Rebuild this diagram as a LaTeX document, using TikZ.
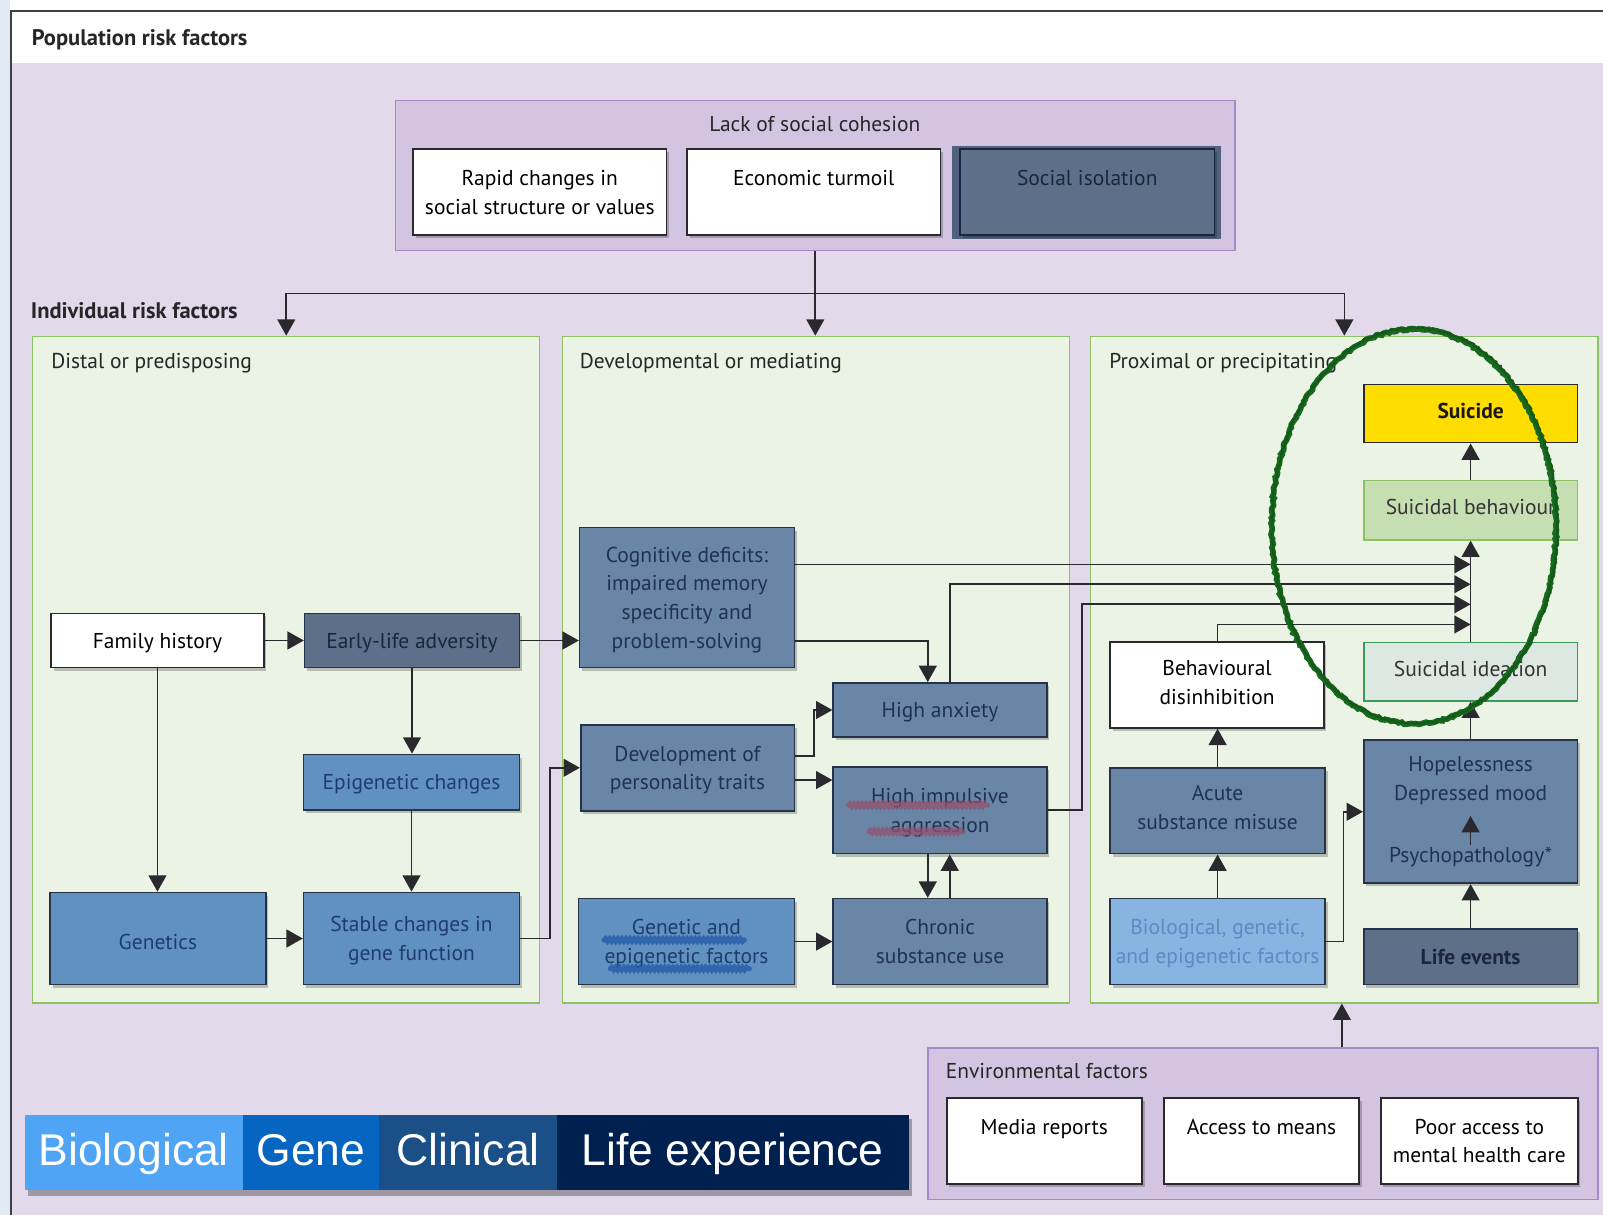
\documentclass[tikz,border=0pt]{standalone}
\usepackage{fontspec}
\setmainfont{PT Sans}
\newfontfamily\legendfont{Liberation Sans}
\usetikzlibrary{arrows.meta,calc,shadows,decorations.pathmorphing}

\definecolor{strip}{HTML}{E2EAF4}
\definecolor{lav}{HTML}{E2DAEB}
\definecolor{lackfill}{HTML}{D3C4E1}
\definecolor{lackline}{HTML}{A68AC6}
\definecolor{zonefill}{HTML}{EBF3E5}
\definecolor{zoneline}{HTML}{8CC264}
\definecolor{slate}{HTML}{5E6F89}
\definecolor{slateglow}{HTML}{52627E}
\definecolor{steel}{HTML}{6A86A7}
\definecolor{midblue}{HTML}{6191C1}
\definecolor{paleblue}{HTML}{87B4E0}
\definecolor{ink}{HTML}{2A2A2E}
\definecolor{boxedge}{HTML}{263248}
\definecolor{slatetext}{HTML}{1A2640}
\definecolor{steeltext}{HTML}{1F3350}
\definecolor{bluetext}{HTML}{1E3D6A}
\definecolor{paletext}{HTML}{5A8BC4}
\definecolor{sunny}{HTML}{FFDD00}
\definecolor{behavfill}{HTML}{C6DFB2}
\definecolor{ideafill}{HTML}{DDE8E2}
\definecolor{idealine}{HTML}{3A9A5A}
\definecolor{ringgreen}{HTML}{176A1E}
\definecolor{scribred}{HTML}{94506E}
\definecolor{scribblue}{HTML}{1F58A8}
\definecolor{legA}{HTML}{4FA4F5}
\definecolor{legB}{HTML}{0565C0}
\definecolor{legC}{HTML}{1A4F88}
\definecolor{legD}{HTML}{00214F}

\begin{document}
\begin{tikzpicture}[x=1pt,y=-1pt,
  font=\fontsize{21}{28}\selectfont,
  plainbox/.style={draw=boxedge, line width=1.6pt, inner sep=2pt, align=center, text depth=0pt},
  box/.style={plainbox,
    drop shadow={shadow xshift=2.5pt, shadow yshift=-3pt, fill=black, opacity=.22}},
  whitebox/.style={box, draw=ink, fill=white, text=black},
  slatebox/.style={box, fill=slate, text=slatetext},
  steelbox/.style={box, fill=steel, text=steeltext},
  bluebox/.style={box, fill=midblue, text=bluetext},
  zone/.style={draw=zoneline, fill=zonefill, line width=1.3pt, inner sep=0pt},
  group/.style={draw=lackline, fill=lackfill, line width=1.3pt, inner sep=0pt},
  heading/.style={anchor=west, inner sep=0pt, text=black!85},
  bighead/.style={heading, font=\bfseries\fontsize{22}{26}\selectfont},
  link/.style={draw=ink, line width=1.6pt},
  arr/.style={link, -{Triangle[length=16pt,width=17.5pt]}},
  scrib/.style={line width=5pt, opacity=.75, line cap=round, decorate,
    decoration={snake, segment length=4pt, amplitude=1.2pt}},
  ring/.style={draw=ringgreen, line width=5.5pt, decorate,
    decoration={random steps, segment length=2.5pt, amplitude=1pt}},
  legseg/.style={inner sep=0pt, minimum height=73.3pt, text=white,
    font=\legendfont\fontsize{43.5}{50}\selectfont, text height=31pt, text depth=6pt}
]
\useasboundingbox (0,0) rectangle (1568,1188);

% page, header band and frame
\fill[white] (0,0) rectangle (1568,1188);
\fill[strip] (0,0) rectangle (9.5,1188);
\fill[lav] (11,61.5) rectangle (1568,1188);
\draw[draw=black!75, line width=2pt] (11,1188) -- (11,10.5) -- (1568,10.5);
\node[bighead] (poptitle) at (31,39) {Population risk factors};

% lack of social cohesion
\node[group, minimum width=821pt, minimum height=147pt] (lack) at (797.5,171.5) {};
\node[inner sep=0pt, text=black!85] (lacktitle) at (797,121) {Lack of social cohesion};
\node[whitebox, minimum width=248pt, minimum height=84pt] (rapid) at (528,188) {Rapid changes in\\social structure or values};
\node[whitebox, minimum width=248pt, minimum height=84pt] (econ) at (796,188) {Economic turmoil\\\mbox{}};
\fill[slateglow] (931,143) rectangle (1194.5,234);
\node[slatebox, draw=slatetext, minimum width=249pt, minimum height=84pt] (isol) at (1063.5,188) {Social isolation\\\mbox{}};

% individual risk factors: three stages
\node[bighead] (indtitle) at (30,304) {Individual risk factors};
\node[zone, minimum width=496pt, minimum height=652pt] (distal) at (280,655) {};
\node[zone, minimum width=496pt, minimum height=652pt] (dev) at (798,655) {};
\node[zone, minimum width=496pt, minimum height=652pt] (prox) at (1315,655) {};
\node[heading] (distaltitle) at (50,355) {Distal or predisposing};
\node[heading] (devtitle) at (567,355) {Developmental or mediating};
\node[heading] (proxtitle) at (1085,355) {Proximal or precipitating};

\coordinate (split) at (797.5,287);
\draw[arr] (lack.south) -- (lack.south |- dev.north);
\draw[arr] (split) -| (distal.north);
\draw[arr] (split) -| (prox.north);

% distal or predisposing
\node[whitebox, minimum width=208pt, minimum height=53pt] (famhist) at (154,626.5) {Family history};
\node[slatebox, minimum width=210pt, minimum height=53pt] (early) at (403,626.5) {Early-life adversity};
\node[bluebox, minimum width=211pt, minimum height=54pt] (epi) at (402.5,765) {Epigenetic changes};
\node[bluebox, text height=21pt, minimum width=211pt, minimum height=90pt] (genetics) at (154.5,918) {Genetics};
\node[bluebox, minimum width=211pt, minimum height=90pt] (stable) at (402.5,918) {Stable changes in\\gene function};

% developmental or mediating
\node[steelbox, minimum width=210pt, minimum height=137pt] (cog) at (672,584.5) {Cognitive deficits:\\impaired memory\\specificity and\\problem-solving};
\node[steelbox, minimum width=209pt, minimum height=84pt] (devpers) at (672.5,751) {Development of\\personality traits};
\node[steelbox, minimum width=209pt, minimum height=53pt] (anx) at (919.5,694.5) {High anxiety};
\node[steelbox, minimum width=209pt, minimum height=85pt] (impuls) at (919.5,792.5) {High impulsive\\aggression};
\node[bluebox, minimum width=211pt, minimum height=84pt] (geneepi) at (671.5,921) {Genetic and\\epigenetic factors};
\node[steelbox, minimum width=209pt, minimum height=84pt] (chronic) at (919.5,921) {Chronic\\substance use};

% scribbled marks over two labels
\draw[scrib, draw=scribred] (830,787.5) -- (966,787.5);
\draw[scrib, draw=scribred] (850,813.5) -- (942,813.5);
\draw[scrib, draw=scribblue] (591,919.5) -- (728,919.5);
\draw[scrib, draw=scribblue] (597,947.5) -- (733,947.5);

% proximal or precipitating
\node[plainbox, draw=ink, fill=sunny, text=black!90, text depth=6pt, font=\bfseries\fontsize{21}{25}\selectfont, minimum width=209pt, minimum height=57pt] (suicide) at (1438.5,404.5) {Suicide};
\node[plainbox, draw=zoneline, fill=behavfill, text=black!80, text depth=6pt, minimum width=209pt, minimum height=58pt] (behav) at (1438.5,499) {Suicidal behaviour};
\node[plainbox, draw=idealine, fill=ideafill, text=black!80, text depth=6pt, minimum width=209pt, minimum height=57pt] (ideation) at (1438.5,657) {Suicidal ideation};
\node[whitebox, text depth=5pt, minimum width=209pt, minimum height=84pt] (disinh) at (1190.5,670) {Behavioural\\disinhibition};
\node[steelbox, text depth=7pt, minimum width=210pt, minimum height=84pt] (acute) at (1191,793) {Acute\\substance misuse};
\node[box, fill=paleblue, text=paletext, minimum width=210pt, minimum height=84pt] (bio) at (1191,921) {Biological, genetic,\\and epigenetic factors};
\node[steelbox, minimum width=209pt, minimum height=140pt] (hopeless) at (1438.5,794) {};
\node[inner sep=2pt, align=center, text=steeltext] (mood) at (1438.5,763.5) {Hopelessness\\Depressed mood};
\node[inner sep=2pt, text=steeltext] (psy) at (1438.5,838) {Psychopathology*};
\node[slatebox, font=\bfseries\fontsize{21}{25}\selectfont, minimum width=209pt, minimum height=54pt] (life) at (1438.5,936) {Life events};

% connectors, distal stage
\draw[arr] (famhist) -- (early);
\draw[arr] (famhist.south) -- (famhist.south |- genetics.north);
\draw[arr] (early.south) -- (early.south |- epi.north);
\draw[arr] (epi.south) -- (epi.south |- stable.north);
\draw[arr] (genetics) -- (stable);
\draw[arr] (early.east) -- (early.east -| cog.west);
\draw[arr] (stable.east) -- ++(29,0) |- (devpers.west);

% connectors, developmental stage
\draw[arr] ($(cog.east)+(0,42.5)$) -| ($(anx.north)+(-12,0)$);
\draw[arr] ($(devpers.east)+(0,-11.5)$) -- ++(18.6,0) |- (anx.west);
\draw[arr] ($(devpers.east)+(0,12)$) coordinate (dp) -- (dp -| impuls.west);
\draw[arr] ($(impuls.south)+(-12,0)$) -- ($(chronic.north)+(-12,0)$);
\draw[arr] ($(chronic.north)+(9.5,0)$) -- ($(impuls.south)+(9.5,0)$);
\draw[arr] (geneepi) -- (chronic);

% connectors into suicidal behaviour
\draw[arr] ($(cog.east)+(0,-32.5)$) coordinate (c1) -- (c1 -| behav.south);
\draw[arr] ($(anx.north)+(9.5,0)$) |- ($(behav.south)+(0,42.7)$);
\draw[arr] (impuls.east) -- ++(33.5,0) |- ($(behav.south)+(0,62.3)$);
\draw[arr] ($(disinh.north)+(0.5,0)$) |- ($(behav.south)+(0,82)$);
\draw[arr] (ideation.north) -- (behav.south);
\draw[arr] (behav.north) -- (suicide.south);

% connectors, proximal stage
\draw[arr] (bio.north) -- (acute.south);
\draw[arr] (acute.north) -- (acute.north |- disinh.south);
\draw[arr] (bio.east) -- ++(17.4,0) |- (hopeless.west);
\draw[arr] (life.north) -- (hopeless.south);
\draw[arr] (hopeless.north) -- (ideation.south);
\draw[arr] (psy.north) -- ($(mood.south)+(0,9)$);

% environmental factors
\node[group, minimum width=655.4pt, minimum height=148pt] (envbox) at (1235.3,1099) {};
\node[heading] (envtitle) at (925,1048) {Environmental factors};
\node[whitebox, minimum width=191pt, minimum height=84.5pt] (media) at (1021.5,1116) {Media reports\\\mbox{}};
\node[whitebox, minimum width=191pt, minimum height=84.5pt] (means) at (1234,1116) {Access to means\\\mbox{}};
\node[whitebox, minimum width=192.6pt, minimum height=84.5pt] (care) at (1447,1116) {Poor access to\\mental health care};
\draw[arr] ($(envbox.north west)+(405.6,0)$) coordinate (e0) -- (e0 |- prox.south);

% legend bar
\fill[black, opacity=.3] (27,1095) rectangle (891.7,1170);
\node[legseg, fill=legA, minimum width=213.6pt] (lbio) at (130.8,1127.4) {Biological};
\node[legseg, fill=legB, minimum width=133.3pt] (lgene) at (304.25,1127.4) {Gene};
\node[legseg, fill=legC, minimum width=173.9pt] (lclin) at (457.85,1127.4) {Clinical};
\node[legseg, fill=legD, minimum width=343.9pt] (llife) at (716.75,1127.4) {Life experience};

% hand-drawn ring
\draw[ring] (1383,515) ellipse [x radius=139, y radius=193];
\draw[ring, line width=2.5pt, draw=ringgreen!85!black] (1383.8,514) ellipse [x radius=139.5, y radius=193.5];
\end{tikzpicture}
\end{document}
